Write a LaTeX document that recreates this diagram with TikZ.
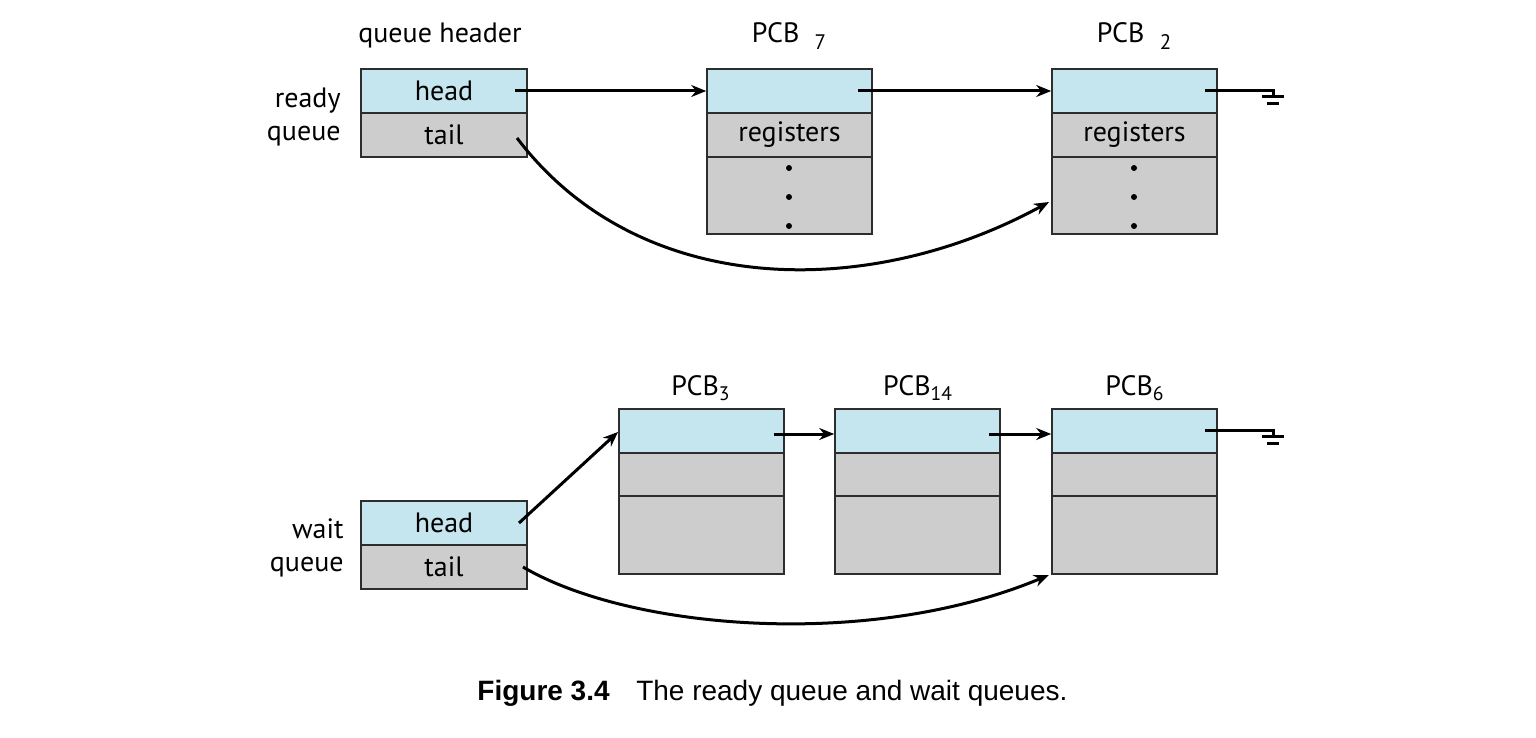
\documentclass[tikz,border=0pt]{standalone}
\usepackage{fontspec}
\setmainfont{PT Sans}
\newfontfamily\capfont{Liberation Sans}
\usetikzlibrary{arrows.meta}
\definecolor{cellblue}{RGB}{198,230,239}
\definecolor{cellgray}{RGB}{205,205,205}
\definecolor{edge}{RGB}{45,45,45}
\tikzset{
  cell/.style={draw=edge, line width=0.8pt, inner sep=0pt, minimum width=82.5pt, minimum height=22pt, font=\fontsize{14}{16}\selectfont},
  bluecell/.style={cell, fill=cellblue},
  graycell/.style={cell, fill=cellgray},
  lbl/.style={font=\fontsize{14}{16.5}\selectfont, inner sep=0pt},
  ptr/.style={line width=1.5pt, -{Stealth[length=7.5pt,width=6pt]}},
  wire/.style={line width=1.5pt},
  dot/.style={circle, fill=black, inner sep=0pt, minimum size=3pt},
}
\begin{document}
\begin{tikzpicture}[x=0.5pt, y=-0.5pt]
\useasboundingbox (0,0) rectangle (1536,738);

% ---------- ready queue ----------
\node[lbl, align=right, anchor=east] (rqlbl) at (341,117) {ready\\queue};
\node[lbl] (rqtitle) at (440,36) {queue header};
\node[bluecell, minimum width=83pt] (rqhead) at (444,91) {head};
\node[graycell, minimum width=83pt] (rqtail) at (444,135) {tail};

\node[lbl] (p7title) at (789,36) {PCB\hspace{0.55em}\raisebox{-0.45ex}{\fontsize{10.5}{12}\selectfont 7}};
\node[bluecell] (p7a) at (789.5,91) {};
\node[graycell] (p7b) at (789.5,135) {registers};
\node[graycell, minimum height=38.5pt] (p7c) at (789.5,195.5) {};
\node[dot] (p7d1) at (789,168) {};
\node[dot] (p7d2) at (789,197) {};
\node[dot] (p7d3) at (789,226) {};

\node[lbl] (p2title) at (1134,36) {PCB\hspace{0.55em}\raisebox{-0.45ex}{\fontsize{10.5}{12}\selectfont 2}};
\node[bluecell] (p2a) at (1134.5,91) {};
\node[graycell] (p2b) at (1134.5,135) {registers};
\node[graycell, minimum height=38.5pt] (p2c) at (1134.5,195.5) {};
\node[dot] (p2d1) at (1134,168) {};
\node[dot] (p2d2) at (1134,197) {};
\node[dot] (p2d3) at (1134,226) {};

\coordinate (rqhp) at (515,91);
\coordinate (rqtp) at (517,138);
\coordinate (p7p) at (858,91);
\coordinate (p2p) at (1205,91);
\coordinate (g1) at (1273,91);

\draw[ptr] (rqhp) -- (p7a.west);
\draw[ptr] (p7p) -- (p2a.west);
\draw[ptr] (rqtp) .. controls (640,300) and (870,300) .. (1049,202);
% null pointer (ground)
\draw[wire] (p2p) -- (g1) -- ++(0,6);
\draw[wire] (1262,97) -- (1284,97);
\draw[wire] (1267,104) -- (1279,104);

% ---------- wait queue ----------
\node[lbl, align=right, anchor=east] (wqlbl) at (344,548) {wait\\queue};
\node[bluecell, minimum width=83pt] (wqhead) at (444,523) {head};
\node[graycell, minimum width=83pt] (wqtail) at (444,567) {tail};

\node[lbl] (p3title) at (701,388) {PCB\textsubscript{3}};
\node[bluecell] (p3a) at (701.5,431) {};
\node[graycell, minimum height=21.5pt] (p3b) at (701.5,474.5) {};
\node[graycell, minimum height=39pt] (p3c) at (701.5,535) {};

\node[lbl] (p14title) at (918,388) {PCB\textsubscript{14}};
\node[bluecell] (p14a) at (917.5,431) {};
\node[graycell, minimum height=21.5pt] (p14b) at (917.5,474.5) {};
\node[graycell, minimum height=39pt] (p14c) at (917.5,535) {};

\node[lbl] (p6title) at (1135,388) {PCB\textsubscript{6}};
\node[bluecell] (p6a) at (1134.5,431) {};
\node[graycell, minimum height=21.5pt] (p6b) at (1134.5,474.5) {};
\node[graycell, minimum height=39pt] (p6c) at (1134.5,535) {};

\coordinate (wqhp) at (519,523);
\coordinate (wqtp) at (523,567);
\coordinate (p3p) at (774,434);
\coordinate (p14p) at (989,434);
\coordinate (p6p) at (1205,430);
\coordinate (g2) at (1273,430);

\draw[ptr] (wqhp) -- (618,432);
\draw[ptr] (p3p) -- (p14a.west |- p3p);
\draw[ptr] (p14p) -- (p6a.west |- p14p);
\draw[ptr] (wqtp) .. controls (630,630) and (870,650) .. (1049,575);
\draw[wire] (p6p) -- (g2) -- ++(0,6);
\draw[wire] (1262,436) -- (1284,436);
\draw[wire] (1267,443) -- (1279,443);

% ---------- caption ----------
\node[anchor=base west, inner sep=0pt, font=\capfont\fontsize{14}{16.5}\selectfont] (cap) at (477,700)
  {\textbf{Figure 3.4}\hspace{0.95em}The ready queue and wait queues.};
\end{tikzpicture}
\end{document}
